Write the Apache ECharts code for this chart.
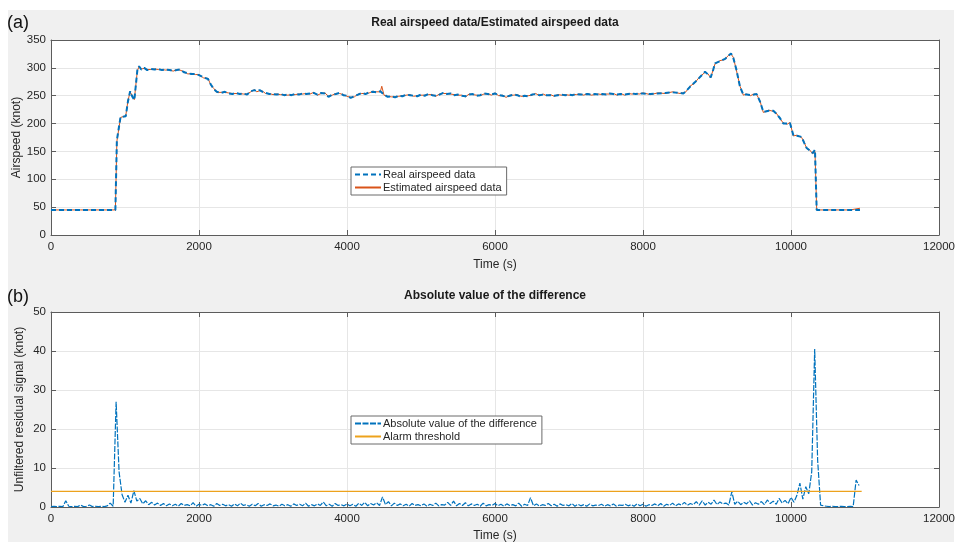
<!DOCTYPE html>
<html>
<head>
<meta charset="utf-8">
<script src="https://cdn.jsdelivr.net/npm/echarts@6/dist/echarts.min.js"></script>
<style>html,body{margin:0;padding:0;background:#fff;}#c{width:957px;height:542px;}</style>
</head>
<body>
<div id="c"></div>
<script>
// ---- Panel (a): airspeed (knot) vs time (s)
const airTime = [
  0,200,400,600,800,870,890,940,1010,1040,
  1070,1100,1126,1167,1190,1220,1260,1300,1350,1400,
  1450,1500,1550,1600,1650,1700,1743,1800,1850,1900,
  1950,2000,2060,2122,2160,2200,2240,2300,2350,2400,
  2450,2500,2550,2600,2650,2700,2750,2780,2820,2860,
  2900,2950,3000,3050,3100,3150,3200,3250,3300,3350,
  3400,3450,3500,3550,3600,3650,3700,3750,3800,3850,
  3900,3950,4000,4050,4100,4150,4200,4250,4300,4350,
  4400,4450,4470,4500,4550,4600,4650,4700,4750,4800,
  4850,4900,4950,5000,5050,5100,5150,5200,5250,5300,
  5350,5400,5450,5500,5550,5600,5650,5700,5750,5800,
  5850,5900,5950,6000,6050,6100,6150,6200,6250,6300,
  6350,6400,6450,6500,6550,6600,6650,6700,6750,6800,
  6850,6900,6950,7000,7050,7100,7150,7200,7250,7300,
  7350,7400,7450,7500,7550,7600,7650,7700,7750,7800,
  7850,7900,7950,8000,8100,8200,8300,8400,8500,8545,
  8580,8635,8700,8760,8838,8880,8915,8950,8973,9040,
  9108,9150,9189,9220,9260,9311,9356,9400,9450,9500,
  9536,9580,9626,9700,9761,9800,9850,9896,9950,9986,
  10032,10080,10144,10180,10212,10250,10293,10324,10347,10400,
  10600,10800,10932
];
const airReal = [
  45,45,45,45,45,45,170,212,213,240,
  258,248,242,296,303,297,300,296,298,297,
  298,296,297,296,295,296,297,292,290,289,
  289,287,283,280,270,262,257,255,257,254,
  253,255,253,254,252,258,260,258,260,257,
  255,253,253,252,253,251,252,251,253,252,
  254,253,254,255,252,255,254,248,252,253,
  255,251,250,246,249,252,255,253,256,257,
  256,258,256,252,248,249,247,250,249,252,
  251,250,249,252,250,253,251,250,252,255,
  253,254,251,252,250,249,252,253,250,251,
  254,253,252,254,251,250,248,250,252,251,
  248,250,249,252,253,251,252,251,251,250,
  251,252,251,252,251,253,252,252,253,252,
  253,252,253,252,254,253,252,253,252,253,
  254,253,254,254,253,254,255,256,255,254,
  258,266,274,282,293,288,283,297,308,312,
  316,321,326,318,298,266,252,252,251,252,
  253,240,221,223,223,218,210,200,200,201,
  179,178,176,165,156,152,147,153,45,45,
  45,45,45
];
const airEst = [
  45,45,45,45,45,45,168,211,214,241,
  257,249,243,295,302,298,299,297,297,298,
  297,297,296,297,294,297,296,293,289,290,
  288,288,282,281,269,263,256,256,256,255,
  254,254,254,253,253,257,261,257,259,258,
  254,254,252,253,252,252,251,252,252,253,
  253,254,253,256,251,254,255,249,251,254,
  254,252,249,247,248,253,254,254,255,258,
  257,257,267,251,249,248,248,249,250,251,
  252,249,250,251,251,252,252,249,253,254,
  254,253,252,251,251,248,253,252,251,250,
  253,254,251,255,250,251,247,251,251,252,
  249,249,250,251,254,250,253,250,252,249,
  252,251,252,251,252,252,253,251,254,251,
  252,253,252,253,253,254,251,254,251,254,
  253,254,253,255,252,255,254,257,254,255,
  257,267,273,283,292,289,282,298,307,313,
  315,322,325,319,297,267,251,253,250,253,
  252,241,220,224,222,219,209,201,199,202,
  178,179,175,166,155,153,146,150,46,45,
  45,45,48
];

// ---- Panel (b): absolute difference, sampled every 40 s starting at 0 s
const resStep = 40;
const resValues = [
  0.1,0.2,0.1,0.2,0.1,1.6,0.2,0.1,0.2,0.1,0.5,0.1,0.2,0.5,0.1,0.2,0.1,0.2,0.1,0.3,
  1.0,0.2,27.0,9.0,3.2,1.2,3.0,1.0,4.2,1.5,2.2,0.8,1.6,0.6,1.2,0.5,1.0,0.4,0.9,0.3,
  0.8,0.3,0.7,0.2,0.9,0.4,0.6,0.3,1.1,0.2,0.7,0.4,0.8,0.3,0.6,0.2,0.9,0.4,0.7,0.3,
  0.6,0.2,0.8,0.3,1.0,0.4,0.6,0.2,0.7,0.3,0.9,0.2,0.6,0.4,0.8,0.3,0.5,0.2,0.7,0.3,
  0.6,0.2,0.8,0.4,0.7,0.3,1.0,0.2,0.6,0.3,0.8,0.4,1.3,0.3,0.7,0.2,0.9,0.4,0.6,0.3,
  0.8,0.3,0.7,0.2,1.0,0.4,1.2,0.3,0.9,0.5,1.1,0.4,2.6,0.6,1.4,0.3,1.0,0.4,0.8,0.3,
  0.7,0.2,0.9,0.4,0.6,0.3,0.8,0.2,0.7,0.4,1.0,0.3,0.6,0.5,1.2,0.4,1.5,0.3,0.9,0.4,
  1.1,0.3,0.8,0.4,0.7,0.2,1.0,0.3,0.6,0.4,0.9,0.3,0.7,0.2,0.8,0.4,0.6,0.3,1.0,0.2,
  0.7,0.4,2.4,0.3,0.8,0.2,0.6,0.4,0.9,0.3,0.7,0.2,0.8,0.4,0.6,0.3,0.9,0.2,0.7,0.3,
  0.6,0.2,0.8,0.3,0.5,0.4,0.7,0.2,0.6,0.3,0.8,0.2,0.5,0.4,0.7,0.3,0.6,0.2,0.8,0.3,
  0.7,0.2,0.6,0.4,0.8,0.3,0.9,0.2,0.7,0.4,1.0,0.3,0.8,0.5,1.2,0.4,0.9,0.6,1.4,0.5,
  1.6,0.5,1.2,0.7,1.8,0.6,1.3,0.8,1.0,0.5,3.9,0.7,1.5,0.6,1.2,0.8,1.6,0.5,1.1,0.7,
  1.4,0.6,1.8,0.9,1.5,0.7,2.2,1.0,1.7,0.8,2.5,1.2,3.0,6.1,2.0,5.2,3.4,9.0,40.5,12.0,
  0.5,0.3,0.2,0.1,0.2,0.1,0.1,0.2,0.1,0.1,0.2,0.1,6.9,5.5
];
const thresholdValue = 4;
const thresholdRange = [0, 10955];

const xTicks = {min: 0, max: 12000, interval: 2000};
const yTicksA = {min: 0, max: 350, interval: 50};
const yTicksB = {min: 0, max: 50, interval: 10};

// ---- build
const FONT = '"Liberation Sans", Arial, Helvetica, sans-serif';
const AXIS_COL = '#5c5c5c';
const TXT_COL = '#262626';
const realData = airTime.map((t, i) => [t, airReal[i]]);
const estData = airTime.map((t, i) => [t, airEst[i]]);
const resData = resValues.map((v, i) => [i * resStep, v]);
const thrData = thresholdRange.map(t => [t, thresholdValue]);

function xAx(grid, pos, named) {
  return {
    gridIndex: grid, type: 'value', position: pos,
    min: xTicks.min, max: xTicks.max, interval: xTicks.interval,
    axisLine: {show: true, onZero: false, lineStyle: {color: AXIS_COL, width: 1}},
    axisTick: {show: true, inside: true, length: 5, lineStyle: {color: AXIS_COL}},
    axisLabel: {show: named, color: TXT_COL, fontSize: 11.5, fontFamily: FONT, margin: 6,
      formatter: v => String(v)},
    splitLine: {show: named, lineStyle: {color: '#e6e6e6', width: 1}},
    name: named ? 'Time (s)' : '', nameLocation: 'middle', nameGap: grid === 0 ? 24 : 23,
    nameMoveOverlap: false,
    nameTextStyle: {color: TXT_COL, fontSize: 12, fontFamily: FONT}
  };
}
function yAx(grid, pos, ticks, named, name, gap) {
  return {
    gridIndex: grid, type: 'value', position: pos,
    min: ticks.min, max: ticks.max, interval: ticks.interval,
    axisLine: {show: true, onZero: false, lineStyle: {color: AXIS_COL, width: 1}},
    axisTick: {show: true, inside: true, length: 5, lineStyle: {color: AXIS_COL}},
    axisLabel: {show: named, color: TXT_COL, fontSize: 11.5, fontFamily: FONT, margin: 5,
      formatter: v => String(v)},
    splitLine: {show: named, lineStyle: {color: '#e6e6e6', width: 1}},
    name: named ? name : '', nameLocation: 'middle', nameGap: gap, nameRotate: 90,
    nameMoveOverlap: false,
    nameTextStyle: {color: TXT_COL, fontSize: 12, fontFamily: FONT}
  };
}
function legendAt(top, names) {
  return {
    data: names, orient: 'vertical', left: 351, top: top,
    backgroundColor: '#fff', borderColor: '#6a6a6a', borderWidth: 1, borderRadius: 0,
    padding: [2, 5, 2, 3], itemGap: 2, itemWidth: 26, itemHeight: 11,
    itemStyle: {opacity: 0},
    textStyle: {color: TXT_COL, fontSize: 11, fontFamily: FONT, padding: [0, 0, 0, -3]}
  };
}

const chart = echarts.init(document.getElementById('c'), null, {renderer: 'canvas'});
chart.setOption({
  animation: false,
  backgroundColor: '#f0f0f0',
  grid: [
    {left: 51, top: 40, width: 888, height: 195, show: true, backgroundColor: '#fff', borderWidth: 0,
     containLabel: false, outerBoundsMode: 'none'},
    {left: 51, top: 312, width: 888, height: 195, show: true, backgroundColor: '#fff', borderWidth: 0,
     containLabel: false, outerBoundsMode: 'none'}
  ],
  xAxis: [xAx(0, 'bottom', true), xAx(0, 'top', false), xAx(1, 'bottom', true), xAx(1, 'top', false)],
  yAxis: [
    yAx(0, 'left', yTicksA, true, 'Airspeed (knot)', 28),
    yAx(0, 'right', yTicksA, false, '', 0),
    yAx(1, 'left', yTicksB, true, 'Unfiltered residual signal (knot)', 25),
    yAx(1, 'right', yTicksB, false, '', 0)
  ],
  legend: [
    legendAt(167, ['Real airspeed data', 'Estimated airspeed data']),
    legendAt(416, ['Absolute value of the difference', 'Alarm threshold'])
  ],
  series: [
    {name: 'Real airspeed data', type: 'line', xAxisIndex: 0, yAxisIndex: 0, data: realData,
     showSymbol: false, symbol: 'none', z: 4,
     lineStyle: {color: '#0072BD', width: 2, type: [5, 3]}, itemStyle: {color: '#0072BD'}},
    {name: 'Estimated airspeed data', type: 'line', xAxisIndex: 0, yAxisIndex: 0, data: estData,
     showSymbol: false, symbol: 'none', z: 3,
     lineStyle: {color: '#D95319', width: 1}, itemStyle: {color: '#D95319'}},
    {name: 'Absolute value of the difference', type: 'line', xAxisIndex: 2, yAxisIndex: 2, data: resData,
     showSymbol: false, symbol: 'none', z: 3,
     lineStyle: {color: '#0072BD', width: 1.2, type: [6, 1.5]}, itemStyle: {color: '#0072BD'}},
    {name: 'Alarm threshold', type: 'line', xAxisIndex: 2, yAxisIndex: 2, data: thrData,
     showSymbol: false, symbol: 'none', z: 4,
     lineStyle: {color: '#EDA21C', width: 1.3}, itemStyle: {color: '#EDA21C'}}
  ],
  graphic: [
    {type: 'rect', shape: {x: 0, y: 0, width: 957, height: 10}, style: {fill: '#fff'}, silent: true},
    {type: 'rect', shape: {x: 0, y: 0, width: 8, height: 542}, style: {fill: '#fff'}, silent: true},
    {type: 'rect', shape: {x: 954, y: 0, width: 3, height: 542}, style: {fill: '#fff'}, silent: true},
    {type: 'text', x: 495, y: 23, style: {text: 'Real airspeed data/Estimated airspeed data',
      font: 'bold 12px ' + FONT, fill: '#1a1a1a', textAlign: 'center', textVerticalAlign: 'middle', verticalAlign: 'middle'}},
    {type: 'text', x: 495, y: 296, style: {text: 'Absolute value of the difference',
      font: 'bold 12px ' + FONT, fill: '#1a1a1a', textAlign: 'center', textVerticalAlign: 'middle', verticalAlign: 'middle'}},
    {type: 'text', x: 7, y: 23, style: {text: '(a)', font: '18px ' + FONT, fill: '#111',
      textAlign: 'left', textVerticalAlign: 'middle', verticalAlign: 'middle'}},
    {type: 'text', x: 7, y: 297, style: {text: '(b)', font: '18px ' + FONT, fill: '#111',
      textAlign: 'left', textVerticalAlign: 'middle', verticalAlign: 'middle'}}
  ]
});
</script>
</body>
</html>
